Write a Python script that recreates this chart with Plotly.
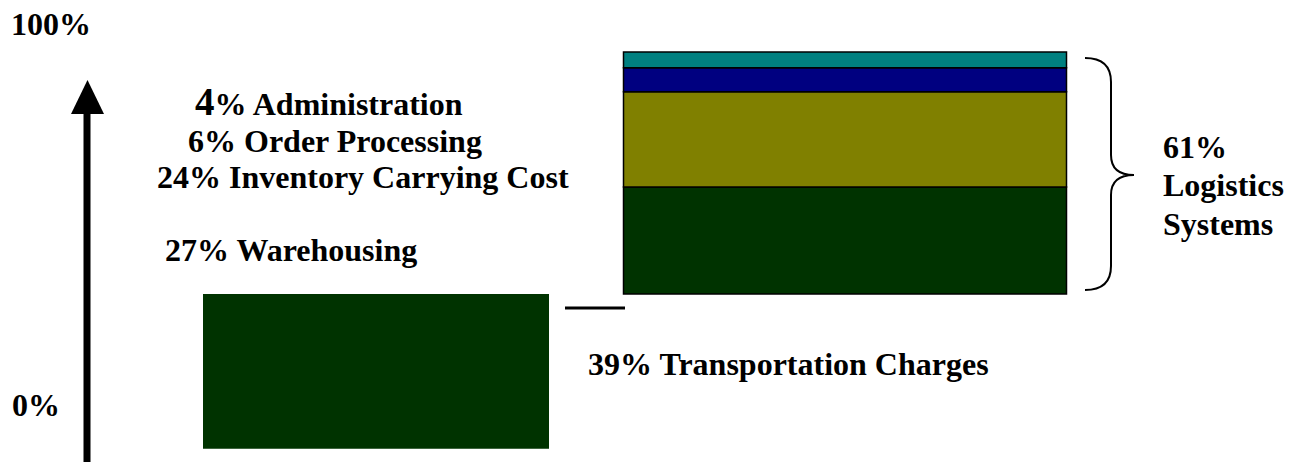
import plotly.graph_objects as go

# ---- data ----
categories = ["Transportation Charges", "Warehousing", "Inventory Carrying Cost",
              "Order Processing", "Administration"]
values = [39, 27, 24, 6, 4]
colors = ["#003300", "#003300", "#808000", "#000080", "#008080"]
axis_labels = ["100%", "0%"]
total_label = ["61%", "Logistics", "Systems"]

W, H = 1293, 462
FONT = "Liberation Serif, Times New Roman, serif"

# bar geometry (x in pixel-like axis units)
left_center, left_width = 376, 346
right_center, right_width = 845, 443

# y axis mapping: percent values
px_per = 242 / 61.0
zero_px = 294 + 39 * px_per
y_top = zero_px / px_per
y_bot = (zero_px - H) / px_per

def px(x):
    return x / W

def py(y):
    return 1 - y / H

fig = go.Figure()

# left bar: transportation
fig.add_trace(go.Bar(
    x=[left_center], y=[values[0]], base=[0], width=[left_width],
    marker=dict(color=colors[0], line=dict(width=0)),
    name=categories[0], hoverinfo="name+y",
))

# right stacked bar: logistics systems
base = values[0]
for cat, v, c in zip(categories[1:], values[1:], colors[1:]):
    fig.add_trace(go.Bar(
        x=[right_center], y=[v], base=[base], width=[right_width],
        marker=dict(color=c, line=dict(color="black", width=1.5)),
        name=cat, hoverinfo="name+y",
    ))
    base += v

shapes = []
# vertical arrow shaft
shapes.append(dict(type="line", xref="paper", yref="paper",
                   x0=px(87), x1=px(87), y0=py(112), y1=py(462),
                   line=dict(color="black", width=7)))
# arrow head
shapes.append(dict(type="path", xref="paper", yref="paper",
                   path=f"M {px(71)},{py(114)} L {px(87.5)},{py(80)} L {px(104)},{py(114)} Z",
                   fillcolor="black", line=dict(color="black", width=0)))
# connector line
shapes.append(dict(type="line", xref="paper", yref="paper",
                   x0=px(565), x1=px(625), y0=py(308), y1=py(308),
                   line=dict(color="black", width=3)))
# brace
brace = [
    (1085, 58), ("Q", 1111, 58, 1111, 82), ("L", 1111, 155),
    ("Q", 1111, 175, 1134, 175), ("Q", 1111, 175, 1111, 195),
    ("L", 1111, 266), ("Q", 1111, 290, 1085, 290),
]
p = f"M {px(brace[0][0])},{py(brace[0][1])}"
for seg in brace[1:]:
    if seg[0] == "Q":
        p += f" Q {px(seg[1])},{py(seg[2])} {px(seg[3])},{py(seg[4])}"
    else:
        p += f" L {px(seg[1])},{py(seg[2])}"
shapes.append(dict(type="path", xref="paper", yref="paper", path=p,
                   line=dict(color="black", width=2)))

ann = []
def label(text, x, y, size=32):
    ann.append(dict(text=text, x=px(x), y=py(y), xref="paper", yref="paper",
                    xanchor="left", yanchor="middle", showarrow=False,
                    font=dict(family=FONT, size=size, color="black", weight="bold")))

label(axis_labels[0], 9, 24)
label(axis_labels[1], 10, 405)
label(f"<span style='font-size:39px'>{values[4]}</span>% {categories[4]}", 193, 102)
label(f"{values[3]}% {categories[3]}", 186, 141)
label(f"{values[2]}% {categories[2]}", 155, 177)
label(f"{values[1]}% {categories[1]}", 163, 250)
label(f"{values[0]}% {categories[0]}", 586, 364)
label(total_label[0], 1161, 147)
label(total_label[1], 1161, 185)
label(total_label[2], 1161, 224)

fig.update_layout(
    width=W, height=H, margin=dict(l=0, r=0, t=0, b=0),
    paper_bgcolor="white", plot_bgcolor="white",
    showlegend=False, barmode="overlay",
    xaxis=dict(range=[0, W], visible=False, fixedrange=True),
    yaxis=dict(range=[y_bot, y_top], visible=False, fixedrange=True),
    shapes=shapes, annotations=ann,
)

fig.write_html("out.html", config={"displayModeBar": False})
